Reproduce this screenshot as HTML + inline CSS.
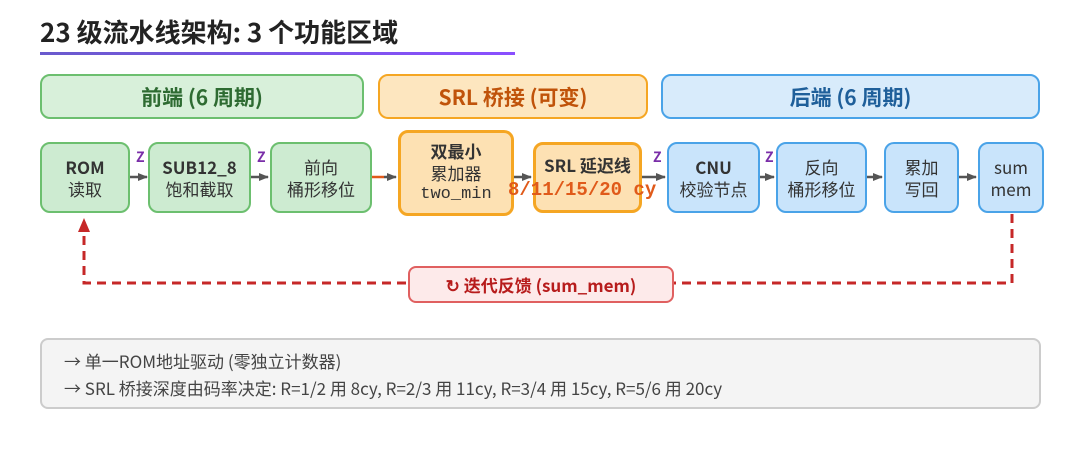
<!DOCTYPE html>
<html><head><meta charset="utf-8"><style>
body{margin:0;width:1080px;height:459px;background:#fff;font-family:"Noto Sans CJK SC","Liberation Sans",sans-serif;position:relative;overflow:hidden}
.a{position:absolute;box-sizing:border-box}
.t{left:40px;top:12px;font-size:26px;line-height:40px;font-weight:bold;color:#222}
.ul{left:40px;top:52px;width:475px;height:3px;background:linear-gradient(90deg,#6a5acd,#8a4fff)}
.h{border-radius:10px;border-width:2px;border-style:solid;display:flex;align-items:center;justify-content:center;font-weight:bold;font-size:21px;top:74px;height:45px}
.g{background:#d8f0da;border-color:#6cbf6f;color:#2e6b32}
.o{background:#fde6bf;border-color:#f5a623;color:#c0530a}
.b{background:#d8ebfb;border-color:#4aa3e8;color:#1f5f9a}
.n{border-radius:10px;border-width:2px;border-style:solid;display:flex;flex-direction:column;align-items:center;justify-content:center;font-size:17px;line-height:22px;color:#333;text-align:center}
.n.g{background:#cdebd1}.n.b{background:#c9e4fb}
.n b{font-size:17px}
.z{color:#7a2ea8;font-weight:bold;font-size:14px;top:148px;line-height:18px}
</style></head><body>
<div class="a t">23 级流水线架构: 3 个功能区域</div>
<div class="a ul"></div>
<div class="a h g" style="left:40px;width:324px">前端 (6 周期)</div>
<div class="a h o" style="left:378px;width:270px">SRL 桥接 (可变)</div>
<div class="a h b" style="left:661px;width:379px">后端 (6 周期)</div>

<svg class="a" style="left:0;top:0" width="1080" height="459">
<defs><marker id="ar" markerUnits="userSpaceOnUse" markerWidth="10" markerHeight="10" refX="9" refY="5" orient="auto"><path d="M0,1L10,5L0,9z" fill="#555"/></marker></defs>
<g stroke="#555" stroke-width="2.5" marker-end="url(#ar)">
<line x1="130" y1="177" x2="147" y2="177"/><line x1="251" y1="177" x2="268" y2="177"/>
<line x1="514" y1="177" x2="531" y2="177"/><line x1="642" y1="177" x2="665" y2="177"/>
<line x1="760" y1="177" x2="774" y2="177"/><line x1="867" y1="177" x2="882" y2="177"/>
<line x1="959" y1="177" x2="976" y2="177"/></g>
<line x1="372" y1="177" x2="384" y2="177" stroke="#e05a1a" stroke-width="2.5"/>
<line x1="384" y1="177" x2="396" y2="177" stroke="#555" stroke-width="2.5" marker-end="url(#ar)"/>
<path d="M1012,214V283H84V222" fill="none" stroke="#c62828" stroke-width="3" stroke-dasharray="9,6"/>
<path d="M78,232L84,218L90,232z" fill="#c62828"/>
</svg>

<div class="a n g" style="left:40px;top:142px;width:90px;height:71px"><b>ROM</b>读取</div>
<div class="a z" style="left:136px">Z</div>
<div class="a n g" style="left:148px;top:142px;width:103px;height:71px"><b>SUB12_8</b>饱和截取</div>
<div class="a z" style="left:257px">Z</div>
<div class="a n g" style="left:270px;top:142px;width:102px;height:71px">前向<br>桶形移位</div>
<div class="a n o" style="left:398px;top:130px;width:116px;height:86px;background:#fde1b3;border-width:3px"><b>双最小</b>累加器<span style="font-family:'Liberation Mono','DejaVu Sans Mono',monospace">two_min</span></div>
<div class="a n o" style="left:533px;top:142px;width:109px;height:71px;background:#fde1b3;border-width:3px;justify-content:flex-start;padding-top:9px"><b>SRL 延迟线</b></div>
<div class="a" style="left:508px;top:178px;font-family:'Liberation Mono',monospace;font-weight:bold;font-size:19px;line-height:24px;color:#e05a1a">8/11/15/20 cy</div>
<div class="a z" style="left:653px">Z</div>
<div class="a n b" style="left:667px;top:142px;width:93px;height:71px"><b>CNU</b>校验节点</div>
<div class="a z" style="left:765px">Z</div>
<div class="a n b" style="left:776px;top:142px;width:91px;height:71px">反向<br>桶形移位</div>
<div class="a n b" style="left:884px;top:142px;width:75px;height:71px">累加<br>写回</div>
<div class="a n b" style="left:978px;top:142px;width:66px;height:71px">sum<br>mem</div>

<div class="a" style="left:408px;top:266px;width:266px;height:37px;border:2px solid #e06060;background:#fdeaea;border-radius:8px;color:#b71c1c;font-weight:bold;font-size:17px;display:flex;align-items:center;justify-content:center">↻ 迭代反馈 (sum_mem)</div>

<div class="a" style="left:40px;top:338px;width:1001px;height:71px;border:2px solid #ccc;background:#f4f4f4;border-radius:8px;font-size:17px;color:#444;padding:7px 0 0 22px;line-height:27px">→ 单一ROM地址驱动 (零独立计数器)<br>→ SRL 桥接深度由码率决定: R=1/2 用 8cy, R=2/3 用 11cy, R=3/4 用 15cy, R=5/6 用 20cy</div>
</body></html>
